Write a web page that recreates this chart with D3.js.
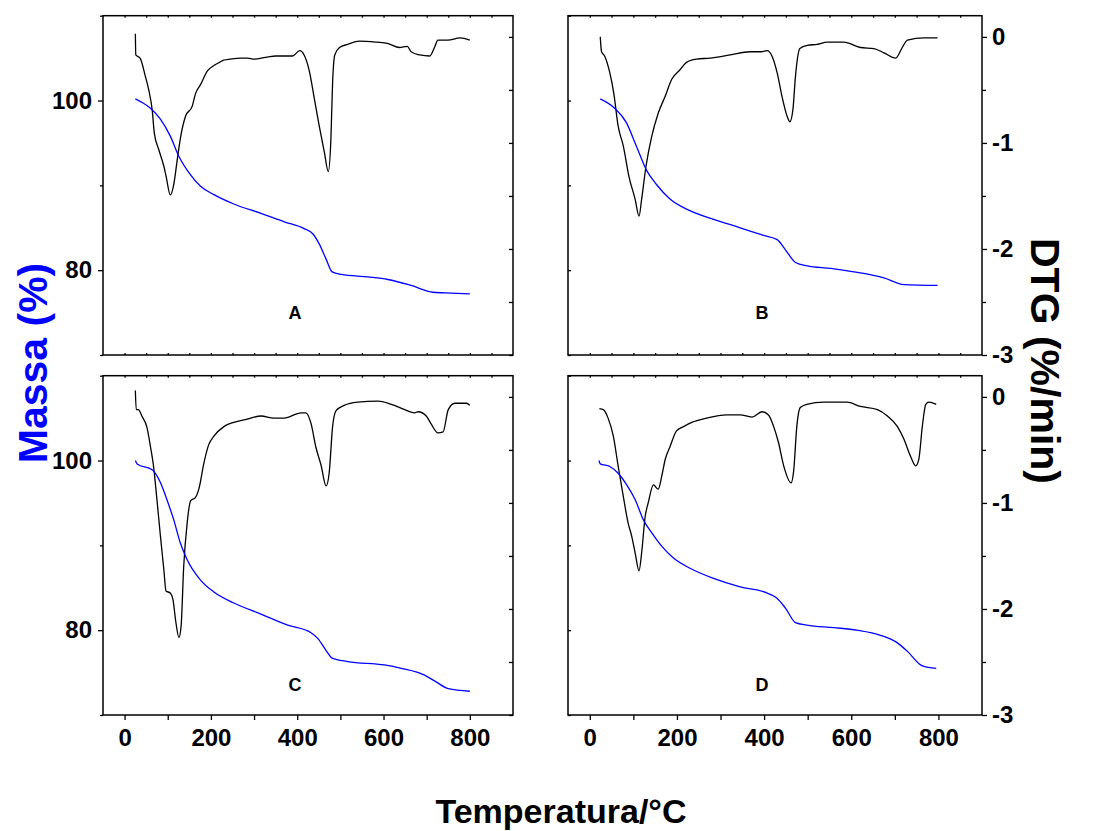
<!DOCTYPE html>
<html lang="en">
<head>
  <meta charset="UTF-8">
  <title>TG / DTG</title>
  <script src="https://cdn.jsdelivr.net/npm/d3@7"></script>
  <style>
    body { margin: 0; background: #fff; }
    svg { font-family: "Liberation Sans", Arial, sans-serif; font-weight: bold; }
  </style>
</head>
<body>
<svg id="chart" width="1094" height="831"></svg>
<script>
// DTG curves, [temperature °C, %/min]
var dtgA = [[25,0.03],[26,-0.17],[36,-0.2],[48,-0.37],[56,-0.5],[64,-0.69],[69,-0.91],[79,-1.06],[91,-1.22],[96,-1.31],[106,-1.49],[114,-1.39],[122,-1.16],[130,-0.94],[141,-0.75],[157,-0.65],[164,-0.54],[176,-0.45],[192,-0.32],[207,-0.27],[220,-0.24],[230,-0.22],[245,-0.21],[269,-0.2],[285,-0.2],[300,-0.21],[331,-0.19],[350,-0.18],[370,-0.18],[389,-0.18],[406,-0.13],[416,-0.17],[428,-0.32],[440,-0.59],[451,-0.84],[463,-1.09],[472,-1.27],[478,-0.97],[482,-0.43],[487,-0.17],[498,-0.1],[517,-0.07],[544,-0.04],[585,-0.05],[609,-0.06],[637,-0.1],[655,-0.09],[664,-0.14],[684,-0.17],[707,-0.18],[719,-0.09],[726,-0.03],[749,-0.03],[777,-0.01],[800,-0.03]];
var dtgB = [[24,0],[27,-0.14],[34,-0.18],[46,-0.34],[55,-0.53],[65,-0.84],[77,-1.03],[90,-1.32],[104,-1.53],[113,-1.69],[119,-1.53],[129,-1.22],[142,-0.94],[157,-0.72],[173,-0.56],[188,-0.4],[207,-0.31],[222,-0.24],[245,-0.21],[276,-0.2],[322,-0.17],[368,-0.14],[394,-0.14],[407,-0.13],[418,-0.18],[430,-0.34],[441,-0.56],[453,-0.75],[459,-0.8],[466,-0.69],[472,-0.37],[482,-0.11],[499,-0.08],[522,-0.07],[545,-0.05],[583,-0.05],[621,-0.1],[652,-0.11],[675,-0.15],[702,-0.2],[717,-0.1],[729,-0.03],[767,-0.01],[798,-0.01]];
var dtgC = [[25,0.06],[27,-0.12],[32,-0.12],[40,-0.18],[52,-0.29],[60,-0.47],[67,-0.65],[75,-0.97],[83,-1.31],[91,-1.63],[96,-1.83],[106,-1.85],[112,-1.91],[119,-2.13],[126,-2.27],[131,-2.16],[137,-1.6],[145,-1.19],[153,-0.98],[164,-0.95],[172,-0.87],[184,-0.62],[195,-0.45],[207,-0.37],[230,-0.28],[253,-0.24],[284,-0.21],[316,-0.18],[346,-0.2],[370,-0.2],[409,-0.15],[420,-0.15],[432,-0.25],[443,-0.47],[455,-0.64],[467,-0.84],[474,-0.72],[482,-0.28],[490,-0.13],[509,-0.08],[540,-0.05],[587,-0.04],[618,-0.07],[649,-0.12],[672,-0.15],[680,-0.14],[699,-0.18],[711,-0.26],[726,-0.34],[738,-0.33],[750,-0.12],[765,-0.06],[792,-0.06],[800,-0.08]];
var dtgD = [[22,-0.11],[31,-0.12],[42,-0.2],[54,-0.37],[65,-0.65],[77,-0.94],[88,-1.19],[96,-1.31],[104,-1.47],[113,-1.64],[119,-1.47],[127,-1.13],[134,-1.0],[146,-0.83],[157,-0.87],[165,-0.75],[173,-0.59],[184,-0.47],[199,-0.32],[215,-0.28],[234,-0.24],[268,-0.2],[314,-0.17],[345,-0.17],[372,-0.19],[395,-0.14],[410,-0.17],[422,-0.28],[433,-0.43],[445,-0.65],[462,-0.81],[468,-0.69],[475,-0.28],[483,-0.1],[498,-0.07],[537,-0.05],[590,-0.05],[621,-0.09],[660,-0.12],[683,-0.18],[706,-0.28],[721,-0.4],[736,-0.56],[748,-0.65],[755,-0.59],[763,-0.28],[771,-0.07],[778,-0.05],[795,-0.07]];

// TG curves, [temperature °C, mass %]
var massA = [[25,100.2],[36,99.9],[60,99.1],[83,97.8],[106,95.8],[126,93.4],[149,91.5],[176,89.9],[207,88.9],[253,87.8],[316,86.7],[370,85.7],[416,84.9],[436,84.3],[451,83.1],[467,81.3],[481,79.8],[502,79.5],[564,79.2],[610,78.9],[664,78.2],[715,77.4],[757,77.3],[800,77.2]];
var massB = [[24,100.2],[57,99.1],[84,97.4],[107,94.6],[130,91.8],[153,90.1],[184,88.4],[222,87.2],[284,86.0],[345,85.0],[399,84.1],[430,83.6],[449,82.4],[472,80.9],[499,80.5],[553,80.2],[606,79.8],[675,79.1],[721,78.3],[798,78.2]];
var massC = [[25,100],[29,99.6],[64,98.9],[83,97.4],[98,95.4],[114,93.0],[129,90.3],[145,88.3],[176,85.9],[207,84.5],[253,83.2],[316,81.9],[378,80.6],[432,79.7],[448,79.0],[467,77.6],[481,76.7],[517,76.3],[602,75.9],[641,75.5],[695,74.7],[722,73.9],[750,73.1],[800,72.8]];
var massD = [[21,100],[24,99.6],[46,99.3],[65,98.5],[84,97.2],[104,95.4],[123,93.0],[142,91.5],[165,89.9],[192,88.5],[230,87.3],[284,86.1],[345,85.1],[406,84.4],[429,83.8],[449,82.6],[472,80.9],[498,80.6],[560,80.3],[613,80.0],[667,79.4],[706,78.5],[729,77.5],[763,75.8],[795,75.5]];

var panelNames = ["A", "B", "C", "D"];
var tempTicks = [0, 200, 400, 600, 800];
var massTicks = [80, 100];
var dtgTicks = [-3, -2, -1, 0];

var svg = d3.select("#chart");

// layout
var cols = [[103, 513], [568, 982]];
var rows = [[15.7, 355], [375.7, 715]];
var panels = [
  { name: panelNames[0], dtg: dtgA, mass: massA, c: 0, r: 0, letterM: 75 },
  { name: panelNames[1], dtg: dtgB, mass: massB, c: 1, r: 0, letterM: 75 },
  { name: panelNames[2], dtg: dtgC, mass: massC, c: 0, r: 1, letterM: 73.5 },
  { name: panelNames[3], dtg: dtgD, mass: massD, c: 1, r: 1, letterM: 73.5 }
];

// plain hyphen for negatives, like the original
var plain = function(d) { return String(d); };

function styleAxis(g, size) {
  g.select(".domain").remove();
  g.selectAll("line").attr("stroke", "#000").attr("stroke-width", 1.3);
  g.attr("font-size", size).attr("font-family", "'Liberation Sans', Arial, sans-serif")
    .attr("font-weight", "bold");
  g.selectAll("text").attr("fill", "#000");
}

panels.forEach(function(p) {
  var x0 = cols[p.c][0], x1 = cols[p.c][1];
  var y0 = rows[p.r][0], y1 = rows[p.r][1];

  var x = d3.scaleLinear().domain([-50, 900]).range([x0, x1]);
  var yM = d3.scaleLinear().domain([70, 110]).range([y1, y0]);
  var yD = d3.scaleLinear().domain([-3, 0.2]).range([y1, y0]);

  var g = svg.append("g");

  // left (mass) side
  if (p.c === 0) {
    g.append("g").attr("transform", "translate(" + x0 + ",0)")
      .call(d3.axisLeft(yM).tickValues(massTicks).tickSize(5).tickPadding(6).tickFormat(plain))
      .call(styleAxis, 24);
    g.append("g").attr("transform", "translate(" + x0 + ",0)")
      .call(d3.axisLeft(yM).tickValues([70, 90, 110]).tickSize(3).tickFormat(""))
      .call(styleAxis, 10);
  } else {
    g.append("g").attr("transform", "translate(" + x0 + ",0)")
      .call(d3.axisLeft(yM).tickValues([70, 80, 90, 100, 110]).tickSize(-3).tickFormat(""))
      .call(styleAxis, 10);
  }

  // right (DTG) side
  if (p.c === 1) {
    g.append("g").attr("transform", "translate(" + x1 + ",0)")
      .call(d3.axisRight(yD).tickValues(dtgTicks).tickSize(5).tickPadding(5).tickFormat(plain))
      .call(styleAxis, 24);
    g.append("g").attr("transform", "translate(" + x1 + ",0)")
      .call(d3.axisRight(yD).tickValues([-2.5, -1.5, -0.5]).tickSize(4).tickFormat(""))
      .call(styleAxis, 10);
  } else {
    g.append("g").attr("transform", "translate(" + x1 + ",0)")
      .call(d3.axisRight(yD).tickValues([-3, -2.5, -2, -1.5, -1, -0.5, 0]).tickSize(-4).tickFormat(""))
      .call(styleAxis, 10);
  }

  // bottom side
  if (p.r === 1) {
    g.append("g").attr("transform", "translate(0," + y1 + ")")
      .call(d3.axisBottom(x).tickValues(tempTicks).tickSize(5).tickPadding(9).tickFormat(plain))
      .call(styleAxis, 24);
    g.append("g").attr("transform", "translate(0," + y1 + ")")
      .call(d3.axisBottom(x).tickValues([100, 300, 500, 700]).tickSize(5).tickFormat(""))
      .call(styleAxis, 10);
  } else {
    g.append("g").attr("transform", "translate(0," + y1 + ")")
      .call(d3.axisBottom(x).tickValues(d3.range(0, 900, 50)).tickSize(-2).tickFormat(""))
      .call(styleAxis, 10);
  }
  // top side
  g.append("g").attr("transform", "translate(0," + y0 + ")")
    .call(d3.axisTop(x).tickValues(d3.range(0, 900, 50)).tickSize(-2).tickFormat(""))
    .call(styleAxis, 10);

  // frame
  g.append("rect")
    .attr("x", x0).attr("y", y0)
    .attr("width", x1 - x0).attr("height", y1 - y0)
    .attr("fill", "none").attr("stroke", "#000").attr("stroke-width", 1.5);

  // curves
  g.append("path").datum(p.dtg)
    .attr("fill", "none").attr("stroke", "#000").attr("stroke-width", 1.3)
    .attr("d", d3.line().curve(d3.curveMonotoneX)
      .x(function(d) { return x(d[0]); }).y(function(d) { return yD(d[1]); }));

  g.append("path").datum(p.mass)
    .attr("fill", "none").attr("stroke", "#0000ff").attr("stroke-width", 1.3)
    .attr("d", d3.line().curve(d3.curveMonotoneX)
      .x(function(d) { return x(d[0]); }).y(function(d) { return yM(d[1]); }));

  // panel letter
  g.append("text")
    .attr("x", x(395)).attr("y", yM(p.letterM))
    .attr("text-anchor", "middle").attr("dominant-baseline", "central")
    .attr("font-size", 18).text(p.name);
});

// axis titles
svg.append("text")
  .attr("transform", "translate(33,363) rotate(-90)")
  .attr("text-anchor", "middle").attr("dominant-baseline", "central")
  .attr("font-size", 41).attr("fill", "#0000ff")
  .text("Massa (%)");

svg.append("text")
  .attr("transform", "translate(1045,361) rotate(90)")
  .attr("text-anchor", "middle").attr("dominant-baseline", "central")
  .attr("font-size", 41).attr("fill", "#000")
  .text("DTG (%/min)");

svg.append("text")
  .attr("x", 561).attr("y", 823)
  .attr("text-anchor", "middle")
  .attr("font-size", 34).attr("fill", "#000")
  .text("Temperatura/°C");
</script>
</body>
</html>
